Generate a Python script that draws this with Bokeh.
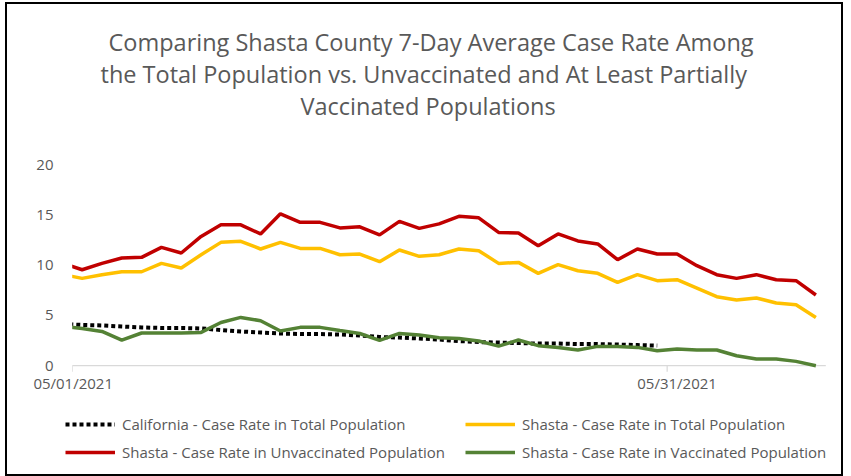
from datetime import datetime
from bokeh.plotting import figure
from bokeh.models import ColumnDataSource, Range1d, Legend, LegendItem, Title
from bokeh.core.properties import value
from bokeh.embed import file_html
from bokeh.resources import INLINE

# ---------------- data ----------------
dates = [
    "04/30/2021",
    "05/01/2021", "05/02/2021", "05/03/2021", "05/04/2021", "05/05/2021",
    "05/06/2021", "05/07/2021", "05/08/2021", "05/09/2021", "05/10/2021",
    "05/11/2021", "05/12/2021", "05/13/2021", "05/14/2021", "05/15/2021",
    "05/16/2021", "05/17/2021", "05/18/2021", "05/19/2021", "05/20/2021",
    "05/21/2021", "05/22/2021", "05/23/2021", "05/24/2021", "05/25/2021",
    "05/26/2021", "05/27/2021", "05/28/2021", "05/29/2021", "05/30/2021",
    "05/31/2021", "06/01/2021", "06/02/2021", "06/03/2021", "06/04/2021",
    "06/05/2021", "06/06/2021", "06/07/2021",
]

california_total = [
    4.15,
    4.05, 4.00, 3.90, 3.80, 3.75, 3.75, 3.70, 3.55, 3.40, 3.30,
    3.20, 3.15, 3.15, 3.10, 3.00, 2.85, 2.80, 2.70, 2.60, 2.45,
    2.35, 2.30, 2.25, 2.20, 2.20, 2.15, 2.15, 2.10, 2.05, 2.00,
    None, None, None, None, None, None, None, None,
]

shasta_total = [
    9.08,
    8.68, 9.05, 9.34, 9.34, 10.17, 9.71, 11.03, 12.26, 12.36, 11.60,
    12.26, 11.66, 11.66, 11.03, 11.10, 10.34, 11.50, 10.87, 11.03, 11.60,
    11.43, 10.17, 10.27, 9.18, 10.04, 9.44, 9.18, 8.28, 9.05, 8.45,
    8.55, 7.72, 6.86, 6.53, 6.73, 6.23, 6.06, 4.80,
]

shasta_unvaccinated = [
    10.20,
    9.54, 10.17, 10.70, 10.77, 11.76, 11.20, 12.85, 14.00, 14.00, 13.10,
    15.10, 14.25, 14.25, 13.70, 13.80, 13.00, 14.35, 13.65, 14.10, 14.85,
    14.70, 13.25, 13.20, 11.93, 13.10, 12.40, 12.10, 10.54, 11.60, 11.10,
    11.10, 9.94, 9.05, 8.68, 9.05, 8.55, 8.45, 7.03,
]

shasta_vaccinated = [
    3.92,
    3.70, 3.41, 2.55, 3.25, 3.25, 3.25, 3.31, 4.30, 4.80, 4.47,
    3.45, 3.81, 3.81, 3.50, 3.20, 2.52, 3.21, 3.05, 2.77, 2.70,
    2.45, 1.95, 2.55, 1.99, 1.82, 1.56, 1.92, 1.92, 1.82, 1.49,
    1.66, 1.56, 1.56, 0.99, 0.66, 0.66, 0.43, 0.00,
]

series_names = [
    "California - Case Rate in Total Population",
    "Shasta - Case Rate in Total Population",
    "Shasta - Case Rate in Unvaccinated Population",
    "Shasta - Case Rate in Vaccinated Population",
]

y_ticks = [0, 5, 10, 15, 20]
tick_labels = ["05/01/2021", "05/31/2021"]
title_lines = [
    "Comparing Shasta County 7-Day Average Case Rate Among",
    "the Total Population vs.  Unvaccinated and At Least Partially",
    "Vaccinated Populations",
]

# ---------------- prep ----------------
origin = datetime.strptime(tick_labels[0], "%m/%d/%Y")
day = [(datetime.strptime(d, "%m/%d/%Y") - origin).days for d in dates]
tick_days = [(datetime.strptime(t, "%m/%d/%Y") - origin).days for t in tick_labels]

src = ColumnDataSource(dict(
    x=day,
    ca=[float("nan") if v is None else v for v in california_total],
    st=shasta_total,
    su=shasta_unvaccinated,
    sv=shasta_vaccinated,
))

GRAY = "#595959"
AXIS = "#D9D9D9"
FONT = "Open Sans"

# ---------------- geometry ----------------
W, H = 838, 474
TOP = 148                       # space for the title block
TOP_PAD = 12                    # pixels of frame above the value 20
AX_LO = day[1] - 0.5            # start of the date axis (05/01 slot edge)
AX_HI = day[-1] + 0.5           # end of the date axis
PLOT_W = 753.6                  # pixel width of the date axis
PAD_L, PAD_R = 64.7, 19.7       # pixels left / right of the date axis
Y_LO, Y_HI = 0, 20
PX_PER_Y = 10.06
ppd = PLOT_W / (AX_HI - AX_LO)
x_lo = AX_LO - PAD_L / ppd
x_hi = AX_HI + PAD_R / ppd
y_top = Y_HI + TOP_PAD / PX_PER_Y
y_bottom = y_top - (H - TOP) / PX_PER_Y

p = figure(
    width=W, height=H,
    output_backend="svg", toolbar_location=None,
    x_range=Range1d(x_lo, x_hi),
    y_range=Range1d(y_bottom, y_top),
    min_border_left=0, min_border_right=0,
    min_border_top=TOP, min_border_bottom=0,
)
p.margin = (2, 0, 0, 5)
p.styles = {"border": "2px solid black", "box-sizing": "border-box"}
p.outline_line_color = None
p.xgrid.visible = False
p.ygrid.visible = False
p.xaxis.visible = False
p.yaxis.visible = False

# date axis line and tick marks
p.segment(x0=[AX_LO], y0=[Y_LO], x1=[AX_HI], y1=[Y_LO],
          line_color=AXIS, line_width=1.2)
minor = [t - 0.5 for t in tick_days]
p.segment(x0=minor, y0=[Y_LO] * len(minor), x1=minor,
          y1=[Y_LO - 6 / PX_PER_Y] * len(minor),
          line_color=AXIS, line_width=1.2)

# lines
r_ca = p.line("x", "ca", source=src, line_color="black", line_width=4,
              line_dash="4 3", line_cap="butt")
r_st = p.line("x", "st", source=src, line_color="#FFC000", line_width=3.5)
r_su = p.line("x", "su", source=src, line_color="#C00000", line_width=3.5)
r_sv = p.line("x", "sv", source=src, line_color="#548235", line_width=3.5)

# plot-area clip on the left (the 04/30 point lies before the axis start)
p.quad(left=[x_lo], right=[AX_LO], bottom=[y_bottom], top=[y_top],
       fill_color="white", line_color=None)

# date labels
label_pos = [tick_days[0] - 0.45, tick_days[1]]
p.text(x=label_pos, y=[Y_LO] * len(label_pos), text=tick_labels,
       y_offset=17, text_align="center", text_baseline="middle",
       text_color=GRAY, text_font=value(FONT), text_font_size="15px")

# value labels
p.text(x=[AX_LO] * len(y_ticks), y=y_ticks, text=[str(t) for t in y_ticks],
       x_offset=-18.7, text_align="right", text_baseline="middle",
       text_color=GRAY, text_font=value(FONT), text_font_size="15px")

# title: spacer nearest the frame, then the three lines (bottom to top)
p.add_layout(Title(text=" ", text_font_size="10px", standoff=19), "above")
title_offsets = [101, 93, 293]
for txt, off in reversed(list(zip(title_lines, title_offsets))):
    p.add_layout(Title(text=txt, align="left", offset=off, standoff=-2,
                       text_color=GRAY, text_font=FONT, text_font_size="23.5px",
                       text_font_style="normal"), "above")

# legend
legend = Legend(
    items=[
        LegendItem(label=series_names[0], renderers=[r_ca]),
        LegendItem(label=series_names[1], renderers=[r_st]),
        LegendItem(label=series_names[2], renderers=[r_su]),
        LegendItem(label=series_names[3], renderers=[r_sv]),
    ],
    orientation="horizontal", ncols=2,
    location=(58, 16),
    glyph_width=50, glyph_height=20, label_height=20,
    label_standoff=7, label_width=335, spacing=8,
    padding=0, margin=0,
    label_text_font=FONT, label_text_font_size="15px", label_text_color=GRAY,
    background_fill_alpha=0, border_line_alpha=0,
)
p.add_layout(legend, "center")

open("out.html", "w").write(file_html(p, INLINE))
